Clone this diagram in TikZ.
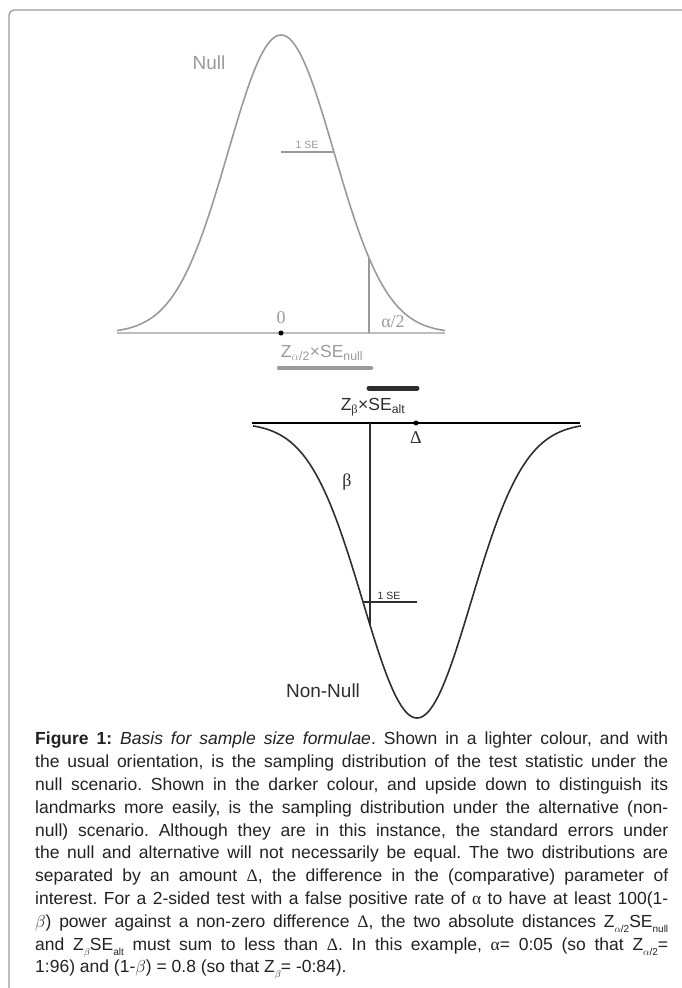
\documentclass[tikz,border=0pt]{standalone}
\usepackage{fontspec}
\setmainfont{Liberation Sans}
\newfontfamily\seriffam{Liberation Serif}
\usetikzlibrary{positioning}
\definecolor{nullgrey}{HTML}{9A9A9A}
\definecolor{axisgrey}{HTML}{BDBDBD}
\definecolor{altdark}{HTML}{2E2E2E}
\definecolor{capgrey}{HTML}{222222}
\newcommand{\capsub}[1]{\raisebox{-0.55ex}{\fontsize{10}{10}\selectfont #1}}
\frenchspacing

\begin{document}
\begin{tikzpicture}[x=1pt, y=-1pt,
	nullcurve/.style={nullgrey, line width=1.6pt},
	altcurve/.style={altdark, line width=1.6pt},
	curve label/.style={font=\fontsize{19}{19}\selectfont},
	bar label/.style={font=\fontsize{17.5}{17.5}\selectfont, inner sep=1pt},
	se label/.style={font=\fontsize{10.5}{10.5}\selectfont, inner sep=1pt},
	serif label/.style={font=\seriffam\fontsize{18}{18}\selectfont, inner sep=1pt},
	dot/.style={circle, fill=black, inner sep=0pt, minimum size=5pt},
	caption/.style={text=capgrey, text width=633pt, align=justify, inner sep=0pt,
		font=\fontsize{17.5}{22.8}\selectfont},
	]
	\useasboundingbox (0,0) rectangle (681,988);
	
	% frame
	\draw[nullgrey, line width=1.3pt, rounded corners=5pt] (9,990) -- (9,10) -- (683,10);
	
	% NULL distribution
	\begin{scope}[shift={(281,333)}]
		\draw[axisgrey, line width=1.5pt] (-164,0) -- (164,0);
		\draw[nullcurve] plot[domain=-164:164, samples=121, smooth]
		(\x, {-298*exp(-(\x/53)*(\x/53)/2)});
		% 1 SE and alpha/2 markers
		\draw[nullgrey, line width=1.2pt] (0,-181) -- (53,-181);
		\draw[nullgrey, line width=1.6pt] (88,-75) -- (88,0);
	\end{scope}
	\node[curve label, text=nullgrey] (nulllab) at (209,63) {Null};
	\node[se label, text=nullgrey] (nullse) at (307,145) {1 SE};
	\node[serif label, text=nullgrey] (zero) at (281,318) {0};
	\node[serif label, text=nullgrey] (alphalab) at (393,322) {α/2};
	\node[dot] (origin) at (281,333) {};
	
	% Z alpha/2 x SE null
	\node[bar label, text=nullgrey] (zalpha) at (322,353) {Z\textsubscript{$\alpha$/2}×SE\textsubscript{null}};
	\coordinate (nullbarL) at (279,368);
	\coordinate (nullbarR) at (371,368);
	\draw[nullgrey, line width=4.5pt, line cap=round] (nullbarL) -- (nullbarR);
	
	% Z beta x SE alt
	\coordinate (altbarL) at (369,388);
	\coordinate (altbarR) at (417,388);
	\draw[altdark, line width=5pt, line cap=round] (altbarL) -- (altbarR);
	\node[bar label, text=altdark] (zbeta) at (373,407) {Z\textsubscript{\seriffam β}×SE\textsubscript{alt}};
	
	% NON-NULL distribution, upside down
	\begin{scope}[shift={(417,423)}]
		\draw[black, line width=1.2pt] (-165,0) -- (163,0);
		\draw[altcurve] plot[domain=-164:164, samples=121, smooth]
		(\x, {295*exp(-(\x/54)*(\x/54)/2)});
		\draw[altdark, line width=1.2pt] (-54,179) -- (0,179);
		\draw[altdark, line width=1.8pt] (-47,0) -- (-47,202);
	\end{scope}
	\node[dot] (delta) at (416,423) {};
	\node[serif label, text=altdark] (deltalab) at (416,438) {Δ};
	\node[serif label, text=altdark] (betalab) at (347,482) {β};
	\node[se label, text=altdark] (altse) at (389,596) {1 SE};
	\node[curve label, text=altdark] (nonnull) at (323,691) {Non-Null};
	
	% caption
	\node[caption, anchor=north west] (figcap) at (35,732) {%
		\textbf{Figure 1:} \textit{Basis for sample size formulae}. Shown in a lighter colour, and with\linebreak
		the usual orientation, is the sampling distribution of the test statistic under the\linebreak
		null scenario. Shown in the darker colour, and upside down to distinguish its\linebreak
		landmarks more easily, is the sampling distribution under the alternative (non-\linebreak
		null) scenario. Although they are in this instance, the standard errors under\linebreak
		the null and alternative will not necessarily be equal. The two distributions are\linebreak
		separated by an amount {\seriffam Δ}, the difference in the (comparative) parameter of\linebreak
		interest. For a 2-sided test with a false positive rate of {\seriffam α} to have at least 100(1-\linebreak
		$\beta$) power against a non-zero difference {\seriffam Δ}, the two absolute distances Z\capsub{$\alpha$/2}SE\capsub{null}\linebreak
		and Z\capsub{$\beta$}SE\capsub{alt} must sum to less than {\seriffam Δ}. In this example, {\seriffam α}= 0:05 (so that Z\capsub{$\alpha$/2}=\linebreak
		1:96) and (1-$\beta$) = 0.8 (so that Z\capsub{$\beta$}= -0:84).};
	
\end{tikzpicture}
\end{document}
